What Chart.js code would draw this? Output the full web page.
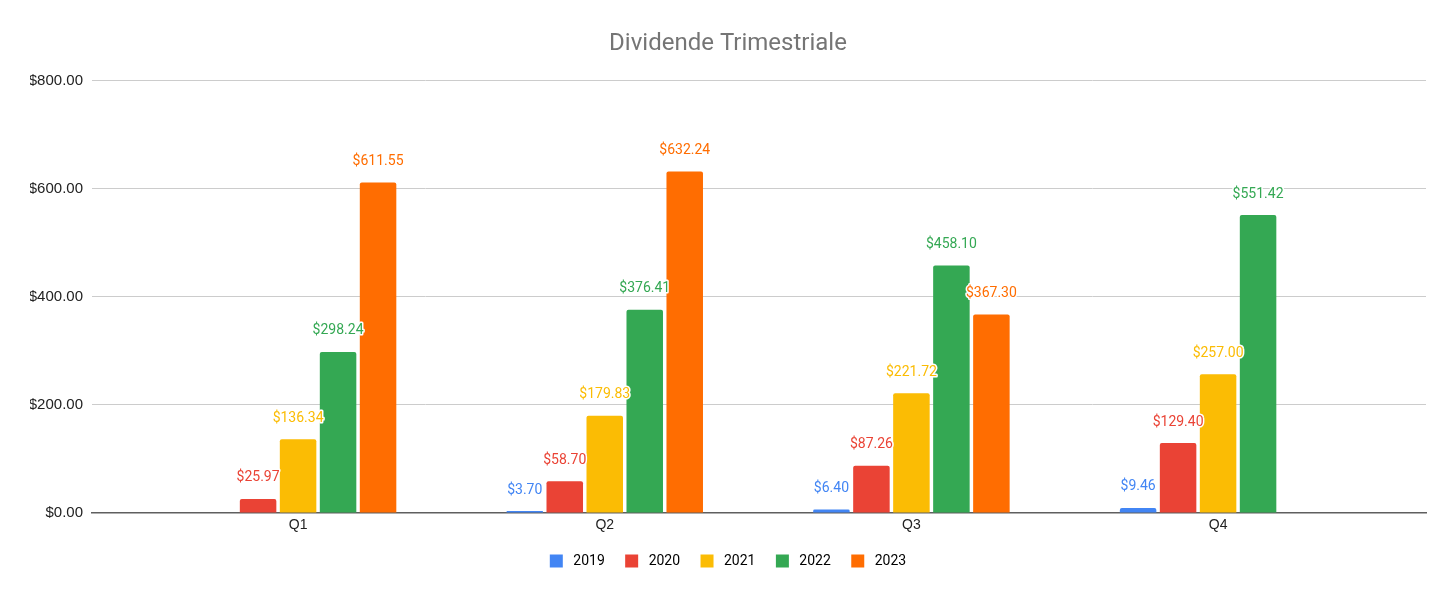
<!DOCTYPE html>
<html>
<head>
<meta charset="utf-8">
<script src="https://cdn.jsdelivr.net/npm/chart.js@4.4.0/dist/chart.umd.min.js"></script>
<style>
  html, body { margin: 0; padding: 0; background: #fff; }
  #wrap { width: 1456px; height: 598px; }
</style>
</head>
<body>
<div id="wrap"><canvas id="c"></canvas></div>
<script>
const categories = ['Q1', 'Q2', 'Q3', 'Q4'];
const years = ['2019', '2020', '2021', '2022', '2023'];
const v2019 = [null, 3.70, 6.40, 9.46];
const v2020 = [25.97, 58.70, 87.26, 129.40];
const v2021 = [136.34, 179.83, 221.72, 257.00];
const v2022 = [298.24, 376.41, 458.10, 551.42];
const v2023 = [611.55, 632.24, 367.30, null];
const yTicks = [0, 200, 400, 600, 800];
const colors = ['#4285F4', '#EA4335', '#FBBC04', '#34A853', '#FF6D01'];

const series = [v2019, v2020, v2021, v2022, v2023];
const FONT = 'Roboto, Arial, sans-serif';
const AXFONT = 'Arial, "Liberation Sans", sans-serif';

const datasets = series.map((vals, i) => ({
  label: years[i],
  data: vals.map((v, j) => ({ x: j, y: v })),
  backgroundColor: colors[i],
  borderColor: colors[i],
  borderWidth: 0,
  borderRadius: { topLeft: 2, topRight: 2, bottomLeft: 0, bottomRight: 0 },
  borderSkipped: 'start',
  categoryPercentage: 0.652,
  barPercentage: 0.913
}));

const labelPlugin = {
  id: 'valueLabels',
  afterDatasetsDraw(chart) {
    const ctx = chart.ctx;
    ctx.save();
    ctx.font = '14px ' + FONT;
    ctx.textAlign = 'center';
    ctx.textBaseline = 'middle';
    ctx.lineJoin = 'round';
    chart.data.datasets.forEach((ds, i) => {
      const meta = chart.getDatasetMeta(i);
      meta.data.forEach((el, j) => {
        const v = series[i][j];
        if (v === null || v === undefined) return;
        const txt = '$' + v.toFixed(2);
        const y = el.y - 21;
        ctx.strokeStyle = '#ffffff';
        ctx.lineWidth = 3;
        ctx.strokeText(txt, el.x, y);
        ctx.fillStyle = colors[i];
        ctx.fillText(txt, el.x, y);
      });
    });
    ctx.restore();
  }
};

new Chart(document.getElementById('c'), {
  type: 'bar',
  data: { datasets },
  plugins: [labelPlugin],
  options: {
    responsive: true,
    maintainAspectRatio: false,
    animation: false,
    layout: { padding: { left: 30, right: 30, top: 0, bottom: 20 } },
    plugins: {
      title: {
        display: true,
        text: 'Dividende Trimestriale',
        color: '#757575',
        font: { family: FONT, size: 24, weight: 'normal' },
        padding: { top: 30, bottom: 22 }
      },
      legend: {
        position: 'bottom',
        labels: {
          color: '#222',
          font: { family: FONT, size: 14 },
          boxWidth: 13,
          boxHeight: 13,
          padding: 10,
          generateLabels(chart) {
            return chart.data.datasets.map((ds, i) => ({
              text: '\u00A0' + ds.label + (i < years.length - 1 ? '\u00A0\u00A0\u00A0' : ''),
              fillStyle: colors[i],
              strokeStyle: colors[i],
              lineWidth: 0,
              datasetIndex: i,
              hidden: false
            }));
          }
        }
      },
      tooltip: { enabled: false }
    },
    scales: {
      x: {
        type: 'linear',
        offset: false,
        min: -0.672,
        max: 3.678,
        grid: { display: false, drawTicks: false, offset: false },
        border: { display: true, color: '#5f5f5f', width: 1.5 },
        afterBuildTicks(scale) {
          scale.ticks = categories.map((c, i) => ({ value: i }));
        },
        afterFit(scale) { scale.height = 31; },
        ticks: {
          color: '#222',
          font: { family: AXFONT, size: 14 },
          padding: 4,
          autoSkip: false,
          maxRotation: 0,
          callback: (v) => categories[v]
        }
      },
      y: {
        min: 0,
        max: 800,
        afterBuildTicks(scale) {
          scale.ticks = yTicks.map(v => ({ value: v }));
        },
        afterFit(scale) { scale.width = 62; },
        grid: {
          color: (c) => c.tick && c.tick.value === 0 ? 'rgba(0,0,0,0)' : '#cccccc',
          lineWidth: 1,
          drawTicks: false
        },
        border: { display: false },
        ticks: {
          color: '#222',
          font: { family: AXFONT, size: 15 },
          padding: 9,
          callback: (v) => '$' + Number(v).toFixed(2)
        }
      }
    }
  }
});
</script>
</body>
</html>
